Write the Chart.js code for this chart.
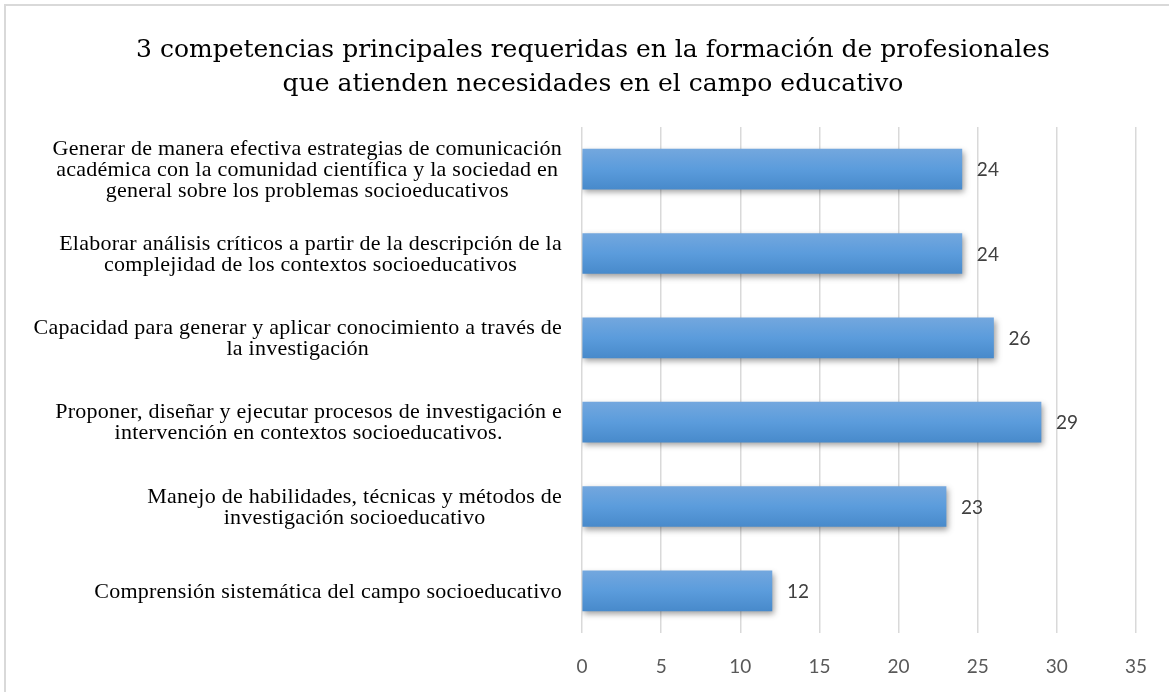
<!DOCTYPE html>
<html>
<head>
<meta charset="utf-8">
<script src="https://cdn.jsdelivr.net/npm/chart.js@4.4.0/dist/chart.umd.min.js"></script>
<style>
html,body{margin:0;padding:0;background:#fff;}
#wrap{width:1169px;height:692px;position:relative;overflow:hidden;}
canvas{display:block;}
</style>
</head>
<body>
<div id="wrap"><canvas id="c" width="1169" height="692"></canvas></div>
<script>
const titleLines = [
  '3 competencias principales requeridas en la formación de profesionales',
  'que atienden necesidades en el campo educativo'
];
const categories = [
  ['Generar de manera efectiva estrategias de comunicación', 'académica con la comunidad científica y la sociedad en', 'general sobre los problemas socioeducativos'],
  ['Elaborar análisis críticos a partir de la descripción de la', 'complejidad de los contextos socioeducativos'],
  ['Capacidad para generar y aplicar conocimiento a través de', 'la investigación'],
  ['Proponer, diseñar y ejecutar procesos de investigación e', 'intervención en contextos socioeducativos.'],
  ['Manejo de habilidades, técnicas y métodos de', 'investigación socioeducativo'],
  ['Comprensión sistemática del campo socioeducativo']
];
const values = [24, 24, 26, 29, 23, 12];
const axisMin = 0;
const axisMax = 35;
const axisStep = 5;

const TITLE_FONT = '"DejaVu Serif", serif';
const SERIF = '"Liberation Serif", "Times New Roman", serif';
const SANS = 'Lato, "Open Sans", sans-serif';
const LABEL_SIZE = 22;
const LABEL_LH = 21;

const framePlugin = {
  id: 'frame',
  beforeDraw(chart) {
    const c = chart.ctx;
    c.save();
    c.fillStyle = '#fff';
    c.fillRect(0, 0, chart.width, chart.height);
    c.strokeStyle = '#d9d9d9';
    c.lineWidth = 2;
    c.beginPath();
    c.moveTo(5, chart.height);
    c.lineTo(5, 5);
    c.lineTo(chart.width, 5);
    c.stroke();
    c.restore();
  }
};

const shadowPlugin = {
  id: 'barShadow',
  beforeDatasetsDraw(chart) {
    const c = chart.ctx;
    c.save();
    c.shadowColor = 'rgba(0,0,0,0.38)';
    c.shadowBlur = 6;
    c.shadowOffsetX = 2;
    c.shadowOffsetY = 3;
  },
  afterDatasetsDraw(chart) {
    chart.ctx.restore();
  }
};

const valueLabelPlugin = {
  id: 'valueLabels',
  afterDatasetsDraw(chart) {
    const c = chart.ctx;
    const meta = chart.getDatasetMeta(0);
    c.save();
    c.font = '19px ' + SANS;
    c.fillStyle = '#404040';
    c.textAlign = 'left';
    c.textBaseline = 'middle';
    meta.data.forEach((el, i) => {
      c.fillText(String(chart.data.datasets[0].data[i]), el.x + 15, el.y + 1);
    });
    c.restore();
  }
};

const catLabelPlugin = {
  id: 'catLabels',
  afterDraw(chart) {
    const c = chart.ctx;
    const ys = chart.scales.y;
    c.save();
    c.font = LABEL_SIZE + 'px ' + SERIF;
    try { c.letterSpacing = '0.25px'; } catch (e) {}
    c.fillStyle = '#000';
    c.textAlign = 'center';
    c.textBaseline = 'middle';
    const rightEdge = ys.right - 20;
    chart.data.labels.forEach((lines, i) => {
      const arr = Array.isArray(lines) ? lines : [lines];
      const w = Math.max(...arr.map(t => c.measureText(t).width));
      const cx = rightEdge - w / 2;
      const yc = ys.getPixelForTick(i) + 1;
      const y0 = yc - (arr.length - 1) * LABEL_LH / 2;
      arr.forEach((t, k) => c.fillText(t, cx, y0 + k * LABEL_LH));
    });
    c.restore();
  }
};

new Chart(document.getElementById('c'), {
  type: 'bar',
  data: {
    labels: categories,
    datasets: [{
      data: values,
      barThickness: 40,
      borderWidth: 0,
      backgroundColor: (ctx) => {
        const chart = ctx.chart;
        const ys = chart.scales && chart.scales.y;
        if (!ys || ctx.type !== 'data' || !isFinite(ys.getPixelForValue(ctx.dataIndex))) return '#5b9bd5';
        const yc = ys.getPixelForValue(ctx.dataIndex);
        const g = chart.ctx.createLinearGradient(0, yc - 20, 0, yc + 20);
        g.addColorStop(0, '#73a7de');
        g.addColorStop(0.5, '#5b9cdc');
        g.addColorStop(1, '#488acb');
        return g;
      }
    }]
  },
  options: {
    responsive: false,
    animation: false,
    indexAxis: 'y',
    layout: { padding: { left: 48, right: 31, top: 0, bottom: 0 } },
    plugins: {
      legend: { display: false },
      tooltip: { enabled: false },
      title: {
        display: true,
        text: titleLines,
        color: '#000',
        font: { family: TITLE_FONT, size: 25, weight: 'normal', lineHeight: 34 / 25 },
        padding: { top: 33, bottom: 26 }
      }
    },
    scales: {
      x: {
        min: axisMin,
        max: axisMax,
        ticks: { stepSize: axisStep, color: '#595959', font: { family: SANS, size: 19 }, padding: 22 },
        grid: { color: '#d9d9d9', lineWidth: 1.5, drawTicks: false },
        border: { display: false },
        afterFit: (s) => { s.height = 59; }
      },
      y: {
        ticks: { display: false },
        grid: { display: false },
        border: { display: false },
        afterFit: (s) => { s.width = 534; }
      }
    }
  },
  plugins: [framePlugin, shadowPlugin, valueLabelPlugin, catLabelPlugin]
});
</script>
</body>
</html>
